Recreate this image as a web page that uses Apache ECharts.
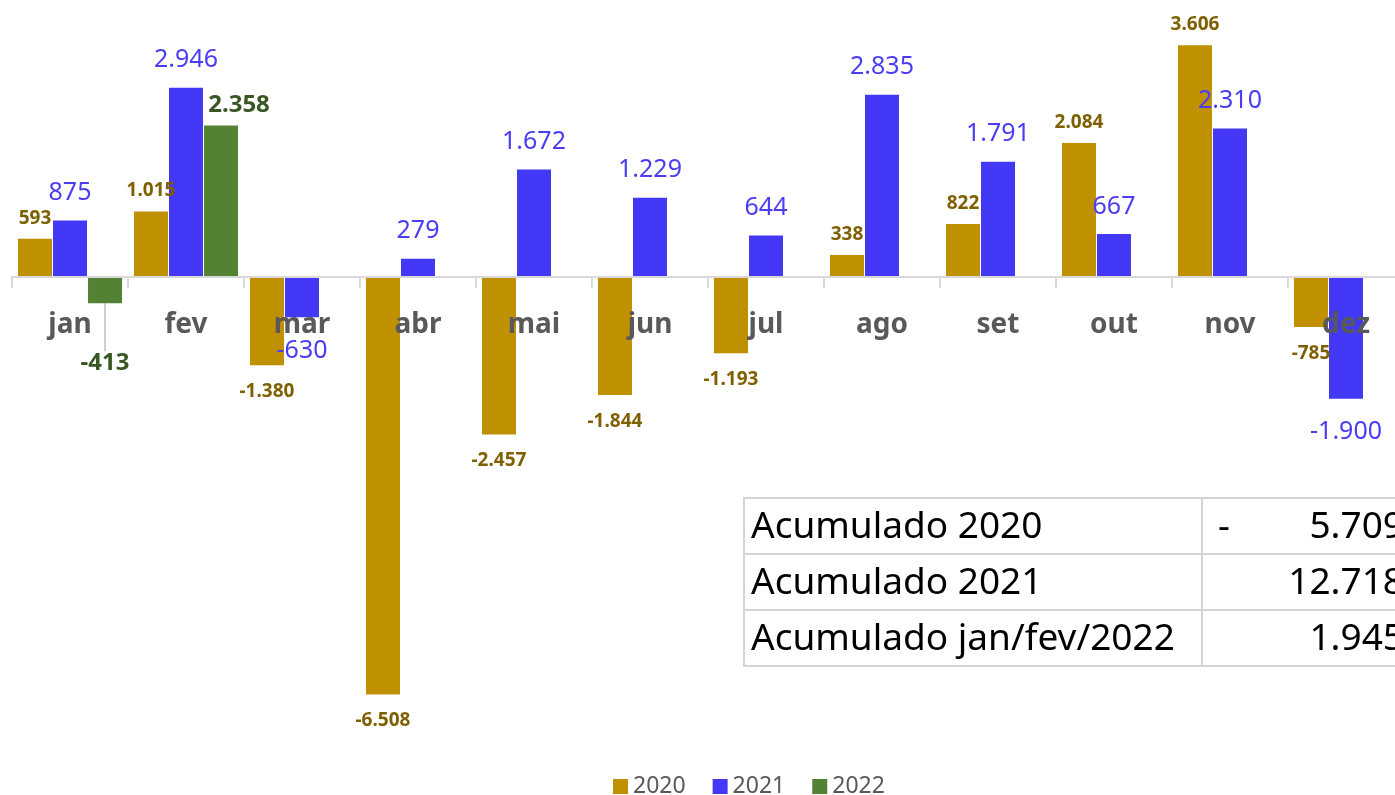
<!DOCTYPE html>
<html>
<head>
<meta charset="utf-8">
<script src="https://cdn.jsdelivr.net/npm/echarts@6/dist/echarts.min.js"></script>
<style>
  html, body { margin: 0; padding: 0; overflow: hidden; background: #fff; }
  #main { width: 1420px; height: 795px; }
</style>
</head>
<body>
<div id="main"></div>
<script>
// dados
var meses = ['jan', 'fev', 'mar', 'abr', 'mai', 'jun', 'jul', 'ago', 'set', 'out', 'nov', 'dez'];
var v2020 = [593, 1015, -1380, -6508, -2457, -1844, -1193, 338, 822, 2084, 3606, -785];
var v2021 = [875, 2946, -630, 279, 1672, 1229, 644, 2835, 1791, 667, 2310, -1900];
var v2022 = [-413, 2358, null, null, null, null, null, null, null, null, null, null];
var tabelaTitulos = ['Acumulado 2020', 'Acumulado 2021', 'Acumulado jan/fev/2022'];

var FONT = 'Noto Sans';
var Y_MIN = -7000, Y_MAX = 4000;
var GRID_TOP = 20, GRID_H = 706;

function fmt(v) {
  var s = String(Math.abs(v)).replace(/\B(?=(\d{3})+(?!\d))/g, '.');
  return (v < 0 ? '-' : '') + s;
}
function soma(arr) {
  return arr.reduce(function (a, b) { return a + (b || 0); }, 0);
}
var tabelaValores = [soma(v2020), soma(v2021), soma(v2022)];

// cada ponto com rótulo em cima ou embaixo conforme o sinal
function pontos(arr, distPos, distNeg, comLinha) {
  return arr.map(function (v) {
    if (v == null) return null;
    return {
      value: v,
      label: v < 0
        ? { position: 'bottom', distance: distNeg }
        : { position: 'top', distance: distPos },
      labelLine: { show: !!comLinha && v < 0 }
    };
  });
}

var myChart = echarts.init(document.getElementById('main'));

// tabela de acumulados
var tabX = 744, tabY = 498, col1 = 458, col2 = 260, rowH = 56;
var fonteTab = '37px "' + FONT + '"';
var graficos = [];
tabelaTitulos.forEach(function (t, i) {
  var y = tabY + i * rowH;
  graficos.push({
    type: 'rect', shape: { x: tabX, y: y, width: col1, height: rowH },
    style: { fill: '#fff', stroke: '#d4d4d4', lineWidth: 2 }, z: 10
  });
  graficos.push({
    type: 'rect', shape: { x: tabX + col1, y: y, width: col2, height: rowH },
    style: { fill: '#fff', stroke: '#d4d4d4', lineWidth: 2 }, z: 10
  });
  graficos.push({
    type: 'text', x: tabX + 7, y: y + rowH / 2 + 1, z: 11,
    style: { text: t, font: fonteTab, fill: '#000', verticalAlign: 'middle', align: 'left' }
  });
  var val = tabelaValores[i];
  if (val < 0) {
    graficos.push({
      type: 'text', x: tabX + col1 + 16, y: y + rowH / 2 + 1, z: 11,
      style: { text: '-', font: fonteTab, fill: '#000', verticalAlign: 'middle', align: 'left' }
    });
  }
  graficos.push({
    type: 'text', x: 1404, y: y + rowH / 2 + 1, z: 11,
    style: { text: fmt(Math.abs(val)), font: fonteTab, fill: '#000', verticalAlign: 'middle', align: 'right' }
  });
});

// deslocamento do eixo x até a linha do zero
var zeroOffset = -GRID_H * (0 - Y_MIN) / (Y_MAX - Y_MIN);

var option = {
  animation: false,
  textStyle: { fontFamily: FONT },
  grid: { left: 12, top: GRID_TOP, width: 1392, height: GRID_H },
  legend: {
    left: 608, top: 770,
    icon: 'rect', itemWidth: 15, itemHeight: 15, itemGap: 27,
    textStyle: { fontSize: 23, color: '#595959', fontFamily: FONT },
    data: ['2020', '2021', '2022']
  },
  xAxis: {
    type: 'category',
    data: meses,
    z: 5,
    offset: zeroOffset,
    axisLine: { onZero: false, lineStyle: { color: '#d9d9d9', width: 2 } },
    axisTick: { show: true, length: 11, lineStyle: { color: '#d9d9d9', width: 2 } },
    axisLabel: { margin: 34, fontSize: 28, fontWeight: 'bold', color: '#595959', fontFamily: FONT }
  },
  yAxis: {
    type: 'value', min: Y_MIN, max: Y_MAX, show: false,
    splitLine: { show: false }
  },
  graphic: graficos,
  series: [
    {
      name: '2020', type: 'bar', barWidth: 34, barGap: '3%',
      itemStyle: { color: '#BF9000' },
      label: {
        show: true, fontSize: 19, fontWeight: 'bold', color: '#7F6000', fontFamily: FONT,
        formatter: function (p) { return fmt(p.value); }
      },
      data: pontos(v2020, 11, 17)
    },
    {
      name: '2021', type: 'bar', barWidth: 34, barGap: '3%',
      itemStyle: { color: '#4338F5' },
      label: {
        show: true, fontSize: 25, color: '#4A3DF5', fontFamily: FONT,
        formatter: function (p) { return fmt(p.value); }
      },
      data: pontos(v2021, 15, 21)
    },
    {
      name: '2022', type: 'bar', barWidth: 34, barGap: '3%',
      itemStyle: { color: '#548235' },
      label: {
        show: true, fontSize: 24, fontWeight: 'bold', color: '#385723', fontFamily: FONT,
        formatter: function (p) { return fmt(p.value); }
      },
      labelLine: { show: true, lineStyle: { color: '#bfbfbf', width: 1.5 } },
      labelLayout: function (p) {
        if (p.dataIndex === 0) return { dy: 42 };
        if (p.dataIndex === 1) return { dx: 18 };
        return {};
      },
      data: pontos(v2022, 8, 6, true)
    }
  ]
};

myChart.setOption(option);
</script>
</body>
</html>
